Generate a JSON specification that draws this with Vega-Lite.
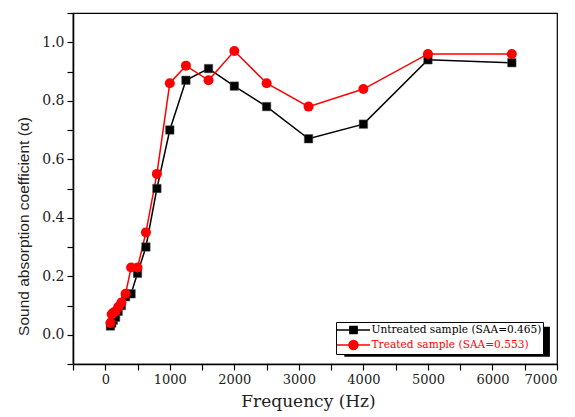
{
  "$schema": "https://vega.github.io/schema/vega-lite/v6.json",
  "width": 484,
  "height": 351,
  "autosize": {"type": "none"},
  "padding": {"left": 73, "top": 13, "right": 18, "bottom": 53},
  "background": "white",
  "config": {
    "view": {"stroke": "black", "strokeWidth": 1.2},
    "axis": {
      "grid": false,
      "domainColor": "black",
      "domainWidth": 1.6,
      "tickColor": "black",
      "tickWidth": 1.2,
      "tickSize": 6,
      "tickCount": 40,
      "labelFont": "DejaVu Serif",
      "labelFontSize": 13,
      "labelColor": "#222",
      "labelOverlap": false,
      "labelBound": false,
      "titleColor": "#222",
      "titleFontWeight": "normal"
    }
  },
  "datasets": {
    "curves": [
      {"f": 80, "a": 0.03, "s": "Untreated sample (SAA=0.465)"},
      {"f": 100, "a": 0.04, "s": "Untreated sample (SAA=0.465)"},
      {"f": 125, "a": 0.05, "s": "Untreated sample (SAA=0.465)"},
      {"f": 160, "a": 0.06, "s": "Untreated sample (SAA=0.465)"},
      {"f": 200, "a": 0.08, "s": "Untreated sample (SAA=0.465)"},
      {"f": 250, "a": 0.1, "s": "Untreated sample (SAA=0.465)"},
      {"f": 315, "a": 0.13, "s": "Untreated sample (SAA=0.465)"},
      {"f": 400, "a": 0.14, "s": "Untreated sample (SAA=0.465)"},
      {"f": 500, "a": 0.21, "s": "Untreated sample (SAA=0.465)"},
      {"f": 630, "a": 0.3, "s": "Untreated sample (SAA=0.465)"},
      {"f": 800, "a": 0.5, "s": "Untreated sample (SAA=0.465)"},
      {"f": 1000, "a": 0.7, "s": "Untreated sample (SAA=0.465)"},
      {"f": 1250, "a": 0.87, "s": "Untreated sample (SAA=0.465)"},
      {"f": 1600, "a": 0.91, "s": "Untreated sample (SAA=0.465)"},
      {"f": 2000, "a": 0.85, "s": "Untreated sample (SAA=0.465)"},
      {"f": 2500, "a": 0.78, "s": "Untreated sample (SAA=0.465)"},
      {"f": 3150, "a": 0.67, "s": "Untreated sample (SAA=0.465)"},
      {"f": 4000, "a": 0.72, "s": "Untreated sample (SAA=0.465)"},
      {"f": 5000, "a": 0.94, "s": "Untreated sample (SAA=0.465)"},
      {"f": 6300, "a": 0.93, "s": "Untreated sample (SAA=0.465)"},
      {"f": 80, "a": 0.04, "s": "Treated sample (SAA=0.553)"},
      {"f": 100, "a": 0.07, "s": "Treated sample (SAA=0.553)"},
      {"f": 125, "a": 0.075, "s": "Treated sample (SAA=0.553)"},
      {"f": 160, "a": 0.08, "s": "Treated sample (SAA=0.553)"},
      {"f": 200, "a": 0.095, "s": "Treated sample (SAA=0.553)"},
      {"f": 250, "a": 0.11, "s": "Treated sample (SAA=0.553)"},
      {"f": 315, "a": 0.14, "s": "Treated sample (SAA=0.553)"},
      {"f": 400, "a": 0.23, "s": "Treated sample (SAA=0.553)"},
      {"f": 500, "a": 0.23, "s": "Treated sample (SAA=0.553)"},
      {"f": 630, "a": 0.35, "s": "Treated sample (SAA=0.553)"},
      {"f": 800, "a": 0.55, "s": "Treated sample (SAA=0.553)"},
      {"f": 1000, "a": 0.86, "s": "Treated sample (SAA=0.553)"},
      {"f": 1250, "a": 0.92, "s": "Treated sample (SAA=0.553)"},
      {"f": 1600, "a": 0.87, "s": "Treated sample (SAA=0.553)"},
      {"f": 2000, "a": 0.97, "s": "Treated sample (SAA=0.553)"},
      {"f": 2500, "a": 0.86, "s": "Treated sample (SAA=0.553)"},
      {"f": 3150, "a": 0.78, "s": "Treated sample (SAA=0.553)"},
      {"f": 4000, "a": 0.84, "s": "Treated sample (SAA=0.553)"},
      {"f": 5000, "a": 0.96, "s": "Treated sample (SAA=0.553)"},
      {"f": 6300, "a": 0.96, "s": "Treated sample (SAA=0.553)"}
    ]
  },
  "layer": [
    {
      "data": {"values": [{}]},
      "mark": {"type": "rect", "color": "black"},
      "encoding": {
        "x": {"datum": 3704, "type": "quantitative"},
        "x2": {"datum": 6890},
        "y": {"datum": 0.027, "type": "quantitative"},
        "y2": {"datum": -0.075}
      }
    },
    {
      "data": {"name": "curves"},
      "mark": {"type": "line", "strokeWidth": 1.5},
      "encoding": {
        "x": {
          "field": "f",
          "type": "quantitative",
          "scale": {"domain": [-500, 7000], "nice": false, "zero": false},
          "axis": {
            "title": "Frequency (Hz)",
            "titleFont": "DejaVu Serif",
            "titleFontSize": 17,
            "titleX": 235,
            "titlePadding": 7,
            "tickCount": 40,
            "values": [-500, 0, 500, 1000, 1500, 2000, 2500, 3000, 3500, 4000, 4500, 5000, 5500, 6000, 6500, 7000],
            "labelExpr": "(datum.value % 1000 == 0 && datum.value >= 0) ? format(datum.value, 'd') : ''",
            "labelPadding": 3,
            "encode": {
              "ticks": {"update": {"y2": {"signal": "datum.value % 1000 == 0 ? 6 : 3"}}}
            }
          }
        },
        "y": {
          "field": "a",
          "type": "quantitative",
          "scale": {"domain": [-0.1, 1.1], "nice": false, "zero": false},
          "axis": {
            "title": "Sound absorption coefficient (α)",
            "titleFont": "Liberation Sans",
            "titleFontSize": 15.5,
            "titleY": 213,
            "titlePadding": 10,
            "tickCount": 40,
            "labelFontSize": 14,
            "values": [-0.1, 0, 0.1, 0.2, 0.3, 0.4, 0.5, 0.6, 0.7, 0.8, 0.9, 1.0, 1.1],
            "labelExpr": "(abs(round(datum.value * 10)) % 2 == 0 && datum.value > -0.05 && datum.value < 1.05) ? format(datum.value, '.1f') : ''",
            "labelPadding": 3,
            "encode": {
              "ticks": {"update": {"x2": {"signal": "abs(round(datum.value * 10)) % 2 == 0 ? -6 : -3"}}}
            }
          }
        },
        "detail": {"field": "s"},
        "color": {
          "field": "s",
          "type": "nominal",
          "sort": null,
          "scale": {"domain": ["Untreated sample (SAA=0.465)", "Treated sample (SAA=0.553)"], "range": ["black", "#ff0000"]},
          "legend": {
            "title": null,
            "orient": "none",
            "legendX": 263,
            "legendY": 309,
            "strokeColor": "black",
            "fillColor": "white",
            "padding": 1,
            "rowPadding": 0,
            "symbolSize": 144,
            "symbolStrokeWidth": 1.5,
            "symbolOffset": 9.5,
            "labelFont": "DejaVu Serif",
            "labelFontSize": 10.6,
            "labelOffset": 11,
            "labelLimit": 400,
            "encode": {
              "symbols": {
                "update": {
                  "shape": {"signal": "indexof(datum.value, 'Untreated') >= 0 ? 'M-2.75,0H2.75M-0.6,-0.6H0.6V0.6H-0.6Z' : 'M-2.75,0H2.75M0.75,0A0.75,0.75 0 1 1 -0.75,0A0.75,0.75 0 1 1 0.75,0Z'"},
                  "fill": {"signal": "indexof(datum.value, 'Untreated') >= 0 ? 'black' : '#ff0000'"},
                  "stroke": {"signal": "indexof(datum.value, 'Untreated') >= 0 ? 'black' : '#ff0000'"},
                  "opacity": {"value": 1}
                }
              },
              "labels": {
                "update": {
                  "fill": {"signal": "indexof(datum.value, 'Untreated') >= 0 ? 'black' : '#ff0000'"}
                }
              }
            }
          }
        }
      }
    },
    {
      "data": {"name": "curves"},
      "transform": [{"filter": "indexof(datum.s, 'Untreated') >= 0"}],
      "mark": {"type": "point", "shape": "square", "filled": true, "size": 72, "opacity": 1, "color": "black", "stroke": "#555", "strokeWidth": 0.5},
      "encoding": {
        "x": {"field": "f", "type": "quantitative"},
        "y": {"field": "a", "type": "quantitative"}
      }
    },
    {
      "data": {"name": "curves"},
      "transform": [{"filter": "indexof(datum.s, 'Treated') == 0"}],
      "mark": {"type": "point", "shape": "circle", "filled": true, "size": 100, "opacity": 1, "color": "#ff0000"},
      "encoding": {
        "x": {"field": "f", "type": "quantitative"},
        "y": {"field": "a", "type": "quantitative"}
      }
    }
  ]
}
